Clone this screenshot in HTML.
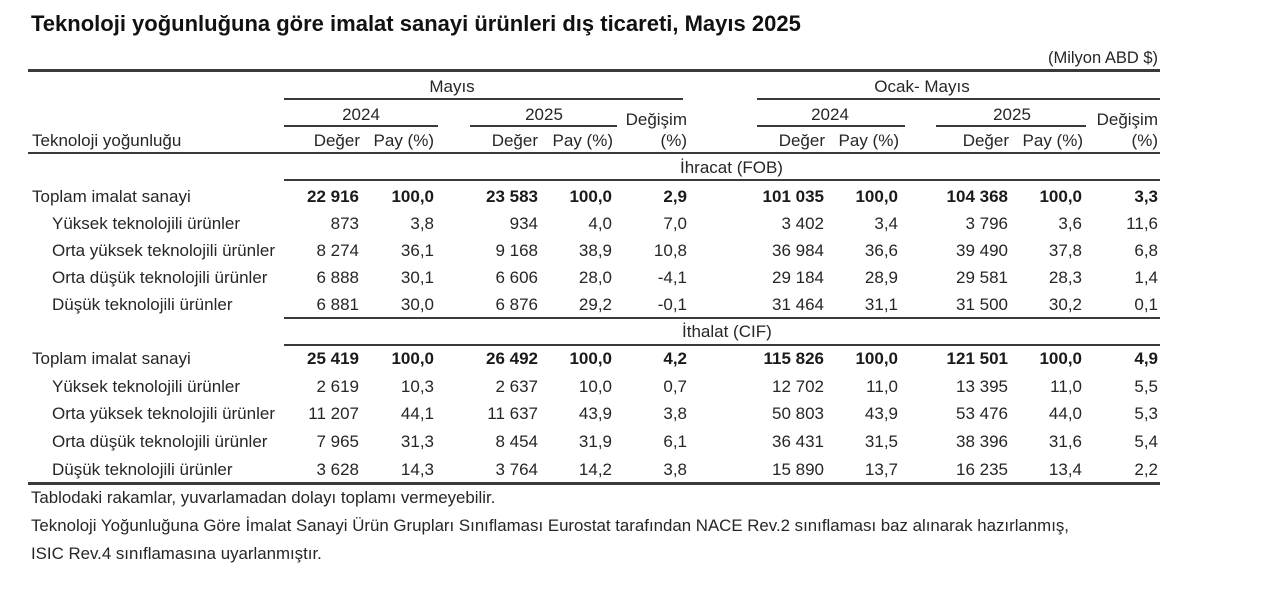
<!DOCTYPE html>
<html lang="tr">
<head>
<meta charset="utf-8">
<style>
html,body{margin:0;padding:0;background:#fff;}
body{width:1280px;height:596px;position:relative;overflow:hidden;}
.t{position:absolute;font-family:"Liberation Sans",Arial,sans-serif;font-size:17px;line-height:20px;color:#262626;white-space:nowrap;}
.b{font-weight:bold;color:#1a1a1a;}
.cen{width:200px;text-align:center;}
.ttl{position:absolute;left:31px;top:11px;font-family:"Liberation Sans",Arial,sans-serif;font-size:22px;line-height:26px;font-weight:bold;color:#111;white-space:nowrap;}
.ln{position:absolute;background:#3a3a3a;}
.fn{font-size:16.85px;}
.c1{right:921px}.c2{right:846px}.c3{right:742px}.c4{right:668px}.c5{right:593px}
.c6{right:456px}.c7{right:382px}.c8{right:272px}.c9{right:198px}.c10{right:122px}
.y1{top:187px}.y2{top:214px}.y3{top:241px}.y4{top:268px}.y5{top:295px}
.y6{top:349px}.y7{top:377px}.y8{top:404px}.y9{top:432px}.y10{top:460px}
.l0{left:32px}.l1{left:52px}
</style>
</head>
<body>
<div class="ttl">Teknoloji yoğunluğuna göre imalat sanayi ürünleri dış ticareti, Mayıs 2025</div>
<div class="t" style="right:122px;top:48px;font-size:16.5px;">(Milyon ABD $)</div>

<!-- lines -->
<div class="ln" style="left:28px;top:69px;width:1132px;height:3px;"></div>
<div class="ln" style="left:284px;top:98px;width:399px;height:2px;"></div>
<div class="ln" style="left:757px;top:98px;width:403px;height:2px;"></div>
<div class="ln" style="left:284px;top:125px;width:154px;height:2px;"></div>
<div class="ln" style="left:470px;top:125px;width:147px;height:2px;"></div>
<div class="ln" style="left:757px;top:125px;width:148px;height:2px;"></div>
<div class="ln" style="left:936px;top:125px;width:150px;height:2px;"></div>
<div class="ln" style="left:28px;top:152px;width:1132px;height:2px;"></div>
<div class="ln" style="left:284px;top:179px;width:876px;height:2px;"></div>
<div class="ln" style="left:284px;top:317px;width:876px;height:2px;"></div>
<div class="ln" style="left:284px;top:344px;width:876px;height:2px;"></div>
<div class="ln" style="left:28px;top:482px;width:1132px;height:3px;"></div>

<!-- header -->
<div class="t cen" style="left:352px;top:77px;">Mayıs</div>
<div class="t cen" style="left:822px;top:77px;">Ocak- Mayıs</div>
<div class="t cen" style="left:261px;top:105px;">2024</div>
<div class="t cen" style="left:444px;top:105px;">2025</div>
<div class="t cen" style="left:730px;top:105px;">2024</div>
<div class="t cen" style="left:912px;top:105px;">2025</div>
<div class="t" style="right:593px;top:110px;">Değişim</div>
<div class="t" style="right:122px;top:110px;">Değişim</div>
<div class="t l0" style="top:131px;">Teknoloji yoğunluğu</div>
<div class="t" style="right:920px;top:131px;">Değer</div>
<div class="t" style="right:846px;top:131px;">Pay (%)</div>
<div class="t" style="right:742px;top:131px;">Değer</div>
<div class="t" style="right:667px;top:131px;">Pay (%)</div>
<div class="t" style="right:593px;top:131px;">(%)</div>
<div class="t" style="right:455px;top:131px;">Değer</div>
<div class="t" style="right:381px;top:131px;">Pay (%)</div>
<div class="t" style="right:271px;top:131px;">Değer</div>
<div class="t" style="right:197px;top:131px;">Pay (%)</div>
<div class="t" style="right:122px;top:131px;">(%)</div>
<div class="t" style="left:680px;top:158px;">İhracat (FOB)</div>
<div class="t" style="left:682px;top:322px;">İthalat (CIF)</div>

<!-- İhracat rows -->
<div class="t l0 y1">Toplam imalat sanayi</div>
<div class="t b c1 y1">22 916</div><div class="t b c2 y1">100,0</div><div class="t b c3 y1">23 583</div><div class="t b c4 y1">100,0</div><div class="t b c5 y1">2,9</div>
<div class="t b c6 y1">101 035</div><div class="t b c7 y1">100,0</div><div class="t b c8 y1">104 368</div><div class="t b c9 y1">100,0</div><div class="t b c10 y1">3,3</div>

<div class="t l1 y2">Yüksek teknolojili ürünler</div>
<div class="t c1 y2">873</div><div class="t c2 y2">3,8</div><div class="t c3 y2">934</div><div class="t c4 y2">4,0</div><div class="t c5 y2">7,0</div>
<div class="t c6 y2">3 402</div><div class="t c7 y2">3,4</div><div class="t c8 y2">3 796</div><div class="t c9 y2">3,6</div><div class="t c10 y2">11,6</div>

<div class="t l1 y3">Orta yüksek teknolojili ürünler</div>
<div class="t c1 y3">8 274</div><div class="t c2 y3">36,1</div><div class="t c3 y3">9 168</div><div class="t c4 y3">38,9</div><div class="t c5 y3">10,8</div>
<div class="t c6 y3">36 984</div><div class="t c7 y3">36,6</div><div class="t c8 y3">39 490</div><div class="t c9 y3">37,8</div><div class="t c10 y3">6,8</div>

<div class="t l1 y4">Orta düşük teknolojili ürünler</div>
<div class="t c1 y4">6 888</div><div class="t c2 y4">30,1</div><div class="t c3 y4">6 606</div><div class="t c4 y4">28,0</div><div class="t c5 y4">-4,1</div>
<div class="t c6 y4">29 184</div><div class="t c7 y4">28,9</div><div class="t c8 y4">29 581</div><div class="t c9 y4">28,3</div><div class="t c10 y4">1,4</div>

<div class="t l1 y5">Düşük teknolojili ürünler</div>
<div class="t c1 y5">6 881</div><div class="t c2 y5">30,0</div><div class="t c3 y5">6 876</div><div class="t c4 y5">29,2</div><div class="t c5 y5">-0,1</div>
<div class="t c6 y5">31 464</div><div class="t c7 y5">31,1</div><div class="t c8 y5">31 500</div><div class="t c9 y5">30,2</div><div class="t c10 y5">0,1</div>

<!-- İthalat rows -->
<div class="t l0 y6">Toplam imalat sanayi</div>
<div class="t b c1 y6">25 419</div><div class="t b c2 y6">100,0</div><div class="t b c3 y6">26 492</div><div class="t b c4 y6">100,0</div><div class="t b c5 y6">4,2</div>
<div class="t b c6 y6">115 826</div><div class="t b c7 y6">100,0</div><div class="t b c8 y6">121 501</div><div class="t b c9 y6">100,0</div><div class="t b c10 y6">4,9</div>

<div class="t l1 y7">Yüksek teknolojili ürünler</div>
<div class="t c1 y7">2 619</div><div class="t c2 y7">10,3</div><div class="t c3 y7">2 637</div><div class="t c4 y7">10,0</div><div class="t c5 y7">0,7</div>
<div class="t c6 y7">12 702</div><div class="t c7 y7">11,0</div><div class="t c8 y7">13 395</div><div class="t c9 y7">11,0</div><div class="t c10 y7">5,5</div>

<div class="t l1 y8">Orta yüksek teknolojili ürünler</div>
<div class="t c1 y8">11 207</div><div class="t c2 y8">44,1</div><div class="t c3 y8">11 637</div><div class="t c4 y8">43,9</div><div class="t c5 y8">3,8</div>
<div class="t c6 y8">50 803</div><div class="t c7 y8">43,9</div><div class="t c8 y8">53 476</div><div class="t c9 y8">44,0</div><div class="t c10 y8">5,3</div>

<div class="t l1 y9">Orta düşük teknolojili ürünler</div>
<div class="t c1 y9">7 965</div><div class="t c2 y9">31,3</div><div class="t c3 y9">8 454</div><div class="t c4 y9">31,9</div><div class="t c5 y9">6,1</div>
<div class="t c6 y9">36 431</div><div class="t c7 y9">31,5</div><div class="t c8 y9">38 396</div><div class="t c9 y9">31,6</div><div class="t c10 y9">5,4</div>

<div class="t l1 y10">Düşük teknolojili ürünler</div>
<div class="t c1 y10">3 628</div><div class="t c2 y10">14,3</div><div class="t c3 y10">3 764</div><div class="t c4 y10">14,2</div><div class="t c5 y10">3,8</div>
<div class="t c6 y10">15 890</div><div class="t c7 y10">13,7</div><div class="t c8 y10">16 235</div><div class="t c9 y10">13,4</div><div class="t c10 y10">2,2</div>

<!-- footnotes -->
<div class="t fn" style="left:31px;top:488px;">Tablodaki rakamlar, yuvarlamadan dolayı toplamı vermeyebilir.</div>
<div class="t fn" style="left:31px;top:516px;">Teknoloji Yoğunluğuna Göre İmalat Sanayi Ürün Grupları Sınıflaması Eurostat tarafından NACE Rev.2 sınıflaması baz alınarak hazırlanmış,</div>
<div class="t fn" style="left:31px;top:544px;">ISIC Rev.4 sınıflamasına uyarlanmıştır.</div>
</body>
</html>
